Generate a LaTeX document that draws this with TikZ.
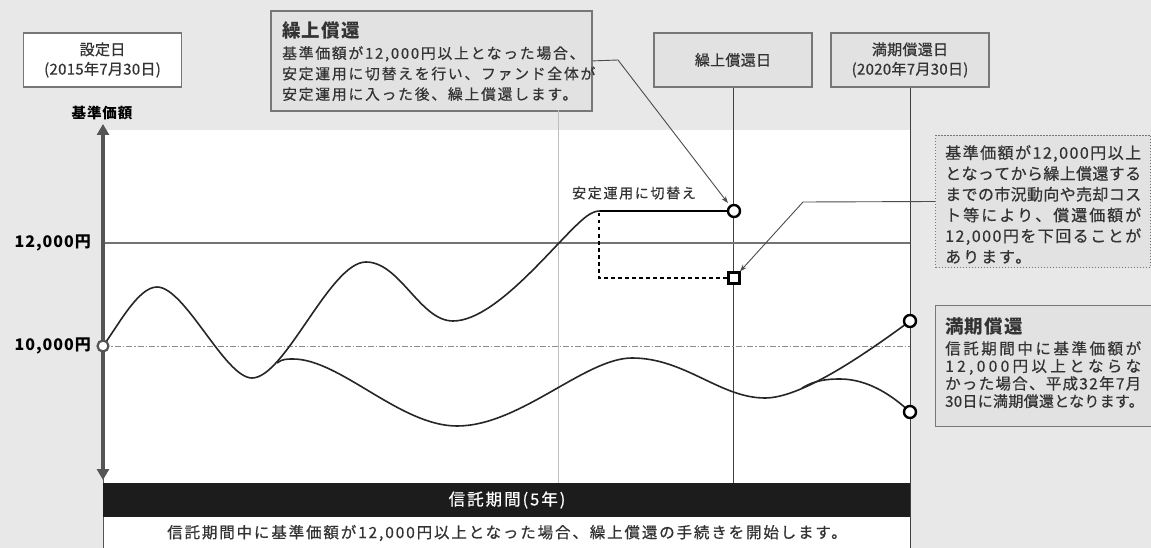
\documentclass[tikz,border=0pt]{standalone}
\usepackage{fontspec}
\setmainfont{Noto Sans CJK JP}
\newfontfamily\jp[LetterSpace=12, FakeBold=0.5]{Noto Sans CJK JP}
\newfontfamily\jpd[LetterSpace=2, FakeBold=0.5]{Noto Sans CJK JP}
\newfontfamily\jpt[LetterSpace=6]{Noto Sans CJK JP}
\usetikzlibrary{arrows.meta}
\definecolor{bg}{HTML}{E8E8E8}
\definecolor{boxfill}{HTML}{E2E2E2}
\definecolor{boxline}{HTML}{777777}
\definecolor{txtc}{HTML}{333333}
\definecolor{axisc}{HTML}{555555}
\definecolor{barc}{HTML}{1C1C1C}
% justified line: characters spread over a given width
\def\jlA#1{\ifx\relax#1\else#1\hskip 0pt plus 1fil\relax\expandafter\jlA\fi}
\newcommand\jl[2]{\hbox to #1{\jlA#2\relax\unskip}}
\begin{document}
\begin{tikzpicture}[x=1pt,y=-1pt,
  every node/.style={inner sep=0pt, text=txtc},
  datebox/.style={draw=boxline, line width=1.3pt, fill=boxfill, minimum width=158, minimum height=54, align=center, font=\jpd\fontsize{15}{19.5}\selectfont},
  body/.style={anchor=north west, align=left, font=\jp\fontsize{15}{20}\selectfont},
  ttl/.style={anchor=north west, font=\jpt\bfseries\fontsize{18.5}{20}\selectfont},
  ylab/.style={anchor=east, font=\jpt\bfseries\fontsize{16}{18}\selectfont, text=black},
  curve/.style={line width=1.6pt, draw=black!85},
  ring/.style={circle, draw=black, line width=2.4pt, fill=white, minimum size=12pt},
  conn/.style={draw=black!70, line width=0.9pt, -{Stealth[length=7pt,width=5pt]}},
  vline/.style={draw=black!75, line width=1pt}]
\useasboundingbox (0,0) rectangle (1151,548);
\fill[bg] (0,0) rectangle (1151,548);
% white plot panel
\fill[white] (103,130) rectangle (911,548);
\draw[axisc, line width=1pt] (103,130) -- (103,548);

% header boxes
\node[datebox, fill=white] (sbox) at (102.5,60) {設定日\\(2015年7月30日)};
\node[datebox] (kdbox) at (733,60) {繰上償還日};
\node[datebox] (mdbox) at (910,60) {満期償還日\\(2020年7月30日)};

\node[draw=boxline, line width=1.8pt, fill=boxfill, minimum width=321, minimum height=100, anchor=north west] (kbox) at (270,10) {};
\node[ttl] (ktitle) at (282,21) {繰上償還};
\node[body, font=\jp\fontsize{14.8}{20.5}\selectfont] (kbody) at (282,46) {基準価額が12,000円以上となった場合、\\安定運用に切替えを行い、ファンド全体が\\安定運用に入った後、繰上償還します。};

% vertical guide lines
\coordinate (g1) at (558,110);
\coordinate (g2) at (558,483);
\draw[black!25, line width=0.8pt] (g1) -- (g2);
\coordinate (kd2) at (733,483);
\draw[vline] (kdbox.south) -- (kd2);
\coordinate (md2) at (910,548);
\draw[vline] (mdbox.south) -- (md2);

% horizontal reference lines
\coordinate (h12a) at (103,243);
\coordinate (h12b) at (910,243);
\draw[black!55, line width=1.4pt] (h12a) -- (h12b);
\coordinate (h10a) at (103,346);
\coordinate (h10b) at (910,346);
\draw[black!45, line width=0.8pt, dash pattern=on 6pt off 2pt on 1.5pt off 2pt] (h10a) -- (h10b);

\node[ylab] (l12) at (91,243) {12,000円};
\node[ylab] (l10) at (91,346) {10,000円};
\node[font=\jpt\bfseries\fontsize{14.5}{16}\selectfont, text=black] (ylabel) at (102,113) {基準価額};

% axis
\coordinate (ax1) at (103,124);
\coordinate (ax2) at (103,480);
\draw[axisc, line width=3.6pt, {Triangle[length=11pt,width=12pt]}-{Triangle[length=11pt,width=12pt]}] (ax2) -- (ax1);

% main curve
\coordinate (c0) at (103,346);
\coordinate (c1) at (734,211);
\draw[curve] (c0) .. controls (118,326) and (138,287) .. (157,287)
  .. controls (185,287) and (225,378) .. (252,378)
  .. controls (285,378) and (330,262) .. (366,262)
  .. controls (400,262) and (420,321) .. (453,321)
  .. controls (500,321) and (566,228) .. (590,214)
  .. controls (594,212) and (596,211) .. (600,211) -- (c1);
\draw[black, line width=2.2pt] (600,211) -- (c1);

% lower curve
\coordinate (c2) at (910,321);
\coordinate (c3) at (910,412);
\draw[curve] (277,363) .. controls (282,359) and (287,359) .. (293,359)
  .. controls (340,359) and (400,426) .. (457,426)
  .. controls (520,426) and (585,358) .. (632,358)
  .. controls (685,358) and (720,398) .. (765,398)
  .. controls (800,398) and (860,358) .. (c2);
\draw[curve] (802,388) .. controls (815,380) and (828,379) .. (840,379)
  .. controls (870,379) and (895,398) .. (c3);

% dotted drop
\coordinate (d1) at (599,213);
\coordinate (d2) at (599,278);
\coordinate (sq) at (734,278);
\draw[black, line width=2.6pt, dash pattern=on 3.5pt off 3.5pt] (d1) -- (d2) -- (sq);

\node[font=\jp\fontsize{14}{16}\selectfont] (switch) at (634,193) {安定運用に切替え};

% markers
\node[circle, draw=axisc, line width=2.2pt, fill=white, minimum size=11pt] (m0) at (c0) {};
\node[ring] (m1) at (c1) {};
\node[ring] (m2) at (c2) {};
\node[ring] (m3) at (c3) {};
\node[draw=black, line width=2.4pt, fill=white, minimum size=11pt] (msq) at (sq) {};

% right boxes
\node[draw=boxline, line width=1pt, dash pattern=on 1.5pt off 1.5pt, fill=boxfill, minimum width=215, minimum height=132, anchor=north west] (dbox) at (935,135) {};
\node[body, font=\jp\fontsize{16}{20.8}\selectfont] (dbody) at (945,145) {\jl{196pt}{基準価額が12,000円以上}\\\jl{196pt}{となってから繰上償還する}\\\jl{196pt}{までの市況動向や売却コス}\\\jl{196pt}{ト等により、償還価額が}\\\jl{196pt}{12,000円を下回ることが}\\あります。};

\node[draw=boxline, line width=1.3pt, fill=boxfill, minimum width=225, minimum height=121, anchor=north west] (mbox) at (935,305) {};
\node[ttl] (mtitle) at (945,317) {満期償還};
\node[body, font=\jp\fontsize{15.5}{17.5}\selectfont] (mbody) at (945,341) {\jl{196pt}{信託期間中に基準価額が}\\\jl{196pt}{12,000円以上とならな}\\\jl{196pt}{かった場合、平成32年7月}\\{\jpd\fontsize{15}{17.5}\selectfont 30日に満期償還となります。}};

% connectors
\coordinate (k1) at (618,60);
\draw[conn, shorten >=10pt] (kbox.east) -- (k1) -- (c1);
\coordinate (k2) at (803,202);
\draw[conn, shorten >=9pt] (dbox.west) -- (k2) -- (sq);

% bottom bar
\fill[barc] (103,483) rectangle (910,517);
\node[font=\jp\fontsize{16.5}{18}\selectfont, text=white] (period) at (507,500) {信託期間(5年)};
\node[font=\jp\fontsize{15.5}{18}\selectfont] (note) at (507,533) {信託期間中に基準価額が12,000円以上となった場合、繰上償還の手続きを開始します。};
\end{tikzpicture}
\end{document}
